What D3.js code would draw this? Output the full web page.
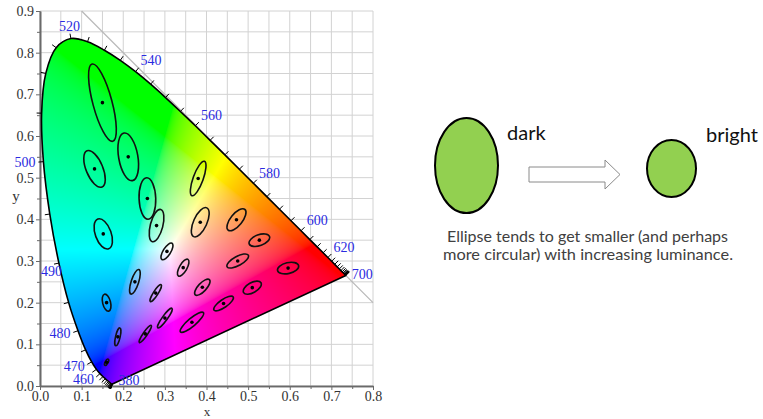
<!DOCTYPE html>
<html><head><meta charset="utf-8">
<script src="https://cdn.jsdelivr.net/npm/d3@7"></script>
<style>body{margin:0;background:#fff}svg{display:block}</style>
</head><body>
<svg id="chart" width="763" height="419"></svg>
<script>
// ---- CIE 1931 spectral locus (5 nm steps) ----
const wavelengths = [380,385,390,395,400,405,410,415,420,425,430,435,440,445,450,455,460,465,470,475,480,485,490,495,500,505,510,515,520,525,530,535,540,545,550,555,560,565,570,575,580,585,590,595,600,605,610,615,620,625,630,635,640,645,650,655,660,665,670,675,680,685,690,695,700];
const locusX = [0.1741,0.1740,0.1738,0.1736,0.1733,0.1730,0.1726,0.1721,0.1714,0.1703,0.1689,0.1669,0.1644,0.1611,0.1566,0.1510,0.1440,0.1355,0.1241,0.1096,0.0913,0.0687,0.0454,0.0235,0.0082,0.0039,0.0139,0.0389,0.0743,0.1142,0.1547,0.1929,0.2296,0.2658,0.3016,0.3373,0.3731,0.4087,0.4441,0.4788,0.5125,0.5448,0.5752,0.6029,0.6270,0.6482,0.6658,0.6801,0.6915,0.7006,0.7079,0.7140,0.7190,0.7230,0.7260,0.7283,0.7300,0.7311,0.7320,0.7327,0.7334,0.7340,0.7344,0.7346,0.7347];
const locusY = [0.0050,0.0050,0.0049,0.0049,0.0048,0.0048,0.0048,0.0048,0.0051,0.0058,0.0069,0.0086,0.0109,0.0138,0.0177,0.0227,0.0297,0.0399,0.0578,0.0868,0.1327,0.2007,0.2950,0.4127,0.5384,0.6548,0.7502,0.8120,0.8338,0.8262,0.8059,0.7816,0.7543,0.7243,0.6923,0.6589,0.6245,0.5896,0.5547,0.5202,0.4866,0.4544,0.4242,0.3965,0.3725,0.3514,0.3340,0.3197,0.3083,0.2993,0.2920,0.2859,0.2809,0.2770,0.2740,0.2717,0.2700,0.2689,0.2680,0.2673,0.2666,0.2660,0.2656,0.2654,0.2653];
const labeledWavelengths = [380,460,470,480,490,500,520,540,560,580,600,620,700];

// ---- MacAdam ellipses (a, b in 1e-3 units, theta in degrees) ----
const ellipseX = [0.160,0.187,0.253,0.150,0.131,0.212,0.258,0.152,0.280,0.380,0.160,0.228,0.305,0.385,0.472,0.527,0.475,0.510,0.596,0.344,0.390,0.441,0.278,0.300,0.365];
const ellipseY = [0.057,0.118,0.125,0.680,0.521,0.550,0.450,0.365,0.385,0.498,0.200,0.250,0.323,0.393,0.399,0.350,0.300,0.236,0.283,0.284,0.237,0.198,0.223,0.163,0.153];
const ellipseA = [0.85,2.2,2.5,9.6,4.7,5.8,5.0,3.8,4.0,4.4,2.1,3.1,2.3,3.8,3.2,2.6,2.9,2.4,2.6,2.3,2.5,2.8,2.4,2.9,3.6];
const ellipseB = [0.35,0.55,0.5,2.3,2.0,2.3,2.0,1.9,1.5,1.2,0.95,0.9,0.9,1.6,1.4,1.3,1.1,1.2,1.3,0.9,1.0,0.95,0.55,0.6,0.95];
const ellipseTheta = [62.5,77,55.5,105,112.5,100,92,110,75.5,70,104,72,58,65.5,51,20,28.5,29.5,13,60,47,34.5,57.5,54,40];
const ellipseMagnification = 10;

// ---- axes ----
const xTicks = [0,0.1,0.2,0.3,0.4,0.5,0.6,0.7,0.8];
const xTickLabels = ["0.0","0.1","0.2","0.3","0.4","0.5","0.6","0.7","0.8"];
const yTicks = [0,0.1,0.2,0.3,0.4,0.5,0.6,0.7,0.8,0.9];
const yTickLabels = ["0.0","0.1","0.2","0.3","0.4","0.5","0.6","0.7","0.8","0.9"];
const minorStep = 0.05;

const svg = d3.select('#chart');
const x = d3.scaleLinear().domain([0,0.8]).range([40,373]);
const y = d3.scaleLinear().domain([0,0.9]).range([386,11]);
const serif = '"Liberation Serif","DejaVu Serif",serif';

// grid
const gx = d3.range(0, 16.5).map(i => +(i*minorStep).toFixed(2));
const gy = d3.range(0, 18.5).map(i => +(i*minorStep).toFixed(2));
const grid = svg.append('g').attr('stroke','#d2d2d2').attr('stroke-width',1);
grid.selectAll('.v').data(gx).join('line').attr('x1',d=>x(d)).attr('x2',d=>x(d)).attr('y1',y(0)).attr('y2',y(0.9));
grid.selectAll('.h').data(gy).join('line').attr('y1',d=>y(d)).attr('y2',d=>y(d)).attr('x1',x(0)).attr('x2',x(0.8));

// x + y = 1 line
svg.append('line').attr('x1',x(0.1)).attr('y1',y(0.9)).attr('x2',x(0.8)).attr('y2',y(0.2))
  .attr('stroke','#b8b8b8').attr('stroke-width',1.2);

// colour fill image
const px0 = x(0), py0 = y(0.9);
const W = Math.round(x(0.8)-x(0)), H = Math.round(y(0)-y(0.9));
const cv = document.createElement('canvas'); cv.width = W; cv.height = H;
const ctx = cv.getContext('2d');
const img = ctx.createImageData(W,H);
const gam = v => v <= 0.0031308 ? 12.92*v : 1.055*Math.pow(v,1/2.4)-0.055;
for (let j=0;j<H;j++){
  const cy = y.invert(py0 + j + 0.5);
  for (let i=0;i<W;i++){
    const cx = x.invert(px0 + i + 0.5);
    const k = (j*W+i)*4;
    if (cy <= 0.0005) { img.data[k+3]=0; continue; }
    const X = cx/cy, Y = 1, Z = (1-cx-cy)/cy;
    let r = 3.2406*X - 1.5372*Y - 0.4986*Z;
    let g = -0.9689*X + 1.8758*Y + 0.0415*Z;
    let b = 0.0557*X - 0.2040*Y + 1.0570*Z;
    r = Math.max(0,r); g = Math.max(0,g); b = Math.max(0,b);
    const m = Math.max(r,g,b) || 1;
    img.data[k] = Math.round(255*gam(r/m));
    img.data[k+1] = Math.round(255*gam(g/m));
    img.data[k+2] = Math.round(255*gam(b/m));
    img.data[k+3] = 255;
  }
}
ctx.putImageData(img,0,0);

const pts = wavelengths.map((w,i)=>[x(locusX[i]), y(locusY[i])]);
const locusPath = d3.line().curve(d3.curveCatmullRom.alpha(0.5))(pts) + 'Z';
svg.append('clipPath').attr('id','locusClip').append('path').attr('d', locusPath);
svg.append('image').attr('x',px0).attr('y',py0).attr('width',W).attr('height',H)
  .attr('preserveAspectRatio','none').attr('href', cv.toDataURL()).attr('clip-path','url(#locusClip)');

// axes
const axL = svg.append('g').attr('transform',`translate(${x(0)},0)`)
  .call(d3.axisLeft(y).tickValues(yTicks).tickFormat((d,i)=>yTickLabels[i]).tickSize(4).tickSizeOuter(0).tickPadding(2));
const axLm = svg.append('g').attr('transform',`translate(${x(0)},0)`)
  .call(d3.axisLeft(y).tickValues(gy.filter(d=>Math.round(d*100)%10!==0)).tickFormat('').tickSize(3).tickSizeOuter(0));
const axB = svg.append('g').attr('transform',`translate(0,${y(0)})`)
  .call(d3.axisBottom(x).tickValues(xTicks).tickFormat((d,i)=>xTickLabels[i]).tickSize(4).tickSizeOuter(0).tickPadding(1));
const axBm = svg.append('g').attr('transform',`translate(0,${y(0)})`)
  .call(d3.axisBottom(x).tickValues(gx.filter(d=>Math.round(d*100)%10!==0)).tickFormat('').tickSize(3).tickSizeOuter(0));
[axL,axLm,axB,axBm].forEach(a=>{
  a.select('.domain').attr('stroke','#6a6a6a').attr('stroke-width',1.6);
  a.selectAll('.tick line').attr('stroke','#6a6a6a').attr('stroke-width',1);
  a.selectAll('.tick text').attr('fill','#333').style('font-family',serif).style('font-size','14px');
});
svg.append('text').attr('x',207).attr('y',y(0)+30).attr('text-anchor','middle')
  .style('font-family',serif).style('font-size','13px').attr('fill','#333').text('x');
svg.append('text').attr('x',16).attr('y',y(0.45)+2).attr('text-anchor','middle')
  .style('font-family',serif).style('font-size','15px').attr('fill','#333').text('y');

// locus outline
svg.append('path').attr('d',locusPath).attr('fill','none').attr('stroke','#000').attr('stroke-width',1.6).attr('stroke-linejoin','round');

// ticks and labels along locus
const wp = [x(0.3127), y(0.329)];
function normalAt(i){
  let j=i, k=i;
  while (j>0 && Math.hypot(pts[j][0]-pts[i][0],pts[j][1]-pts[i][1])<2) j--;
  while (k<pts.length-1 && Math.hypot(pts[k][0]-pts[i][0],pts[k][1]-pts[i][1])<2) k++;
  const tx = pts[k][0]-pts[j][0], ty = pts[k][1]-pts[j][1];
  const L = Math.hypot(tx,ty)||1;
  let nx = ty/L, ny = -tx/L;
  if (nx*(pts[i][0]-wp[0]) + ny*(pts[i][1]-wp[1]) < 0){ nx=-nx; ny=-ny; }
  return [nx,ny];
}
const tickG = svg.append('g').attr('stroke','#000').attr('stroke-width',1);
wavelengths.forEach((w,i)=>{
  const [nx,ny] = normalAt(i);
  tickG.append('line').attr('x1',pts[i][0]).attr('y1',pts[i][1])
    .attr('x2',pts[i][0]+nx*5).attr('y2',pts[i][1]+ny*5);
});
const labG = svg.append('g').style('font-family',serif).style('font-size','14px').attr('fill','#2a2ae0');
labeledWavelengths.forEach(w=>{
  const i = wavelengths.indexOf(w);
  const p = pts[i];
  const t = labG.append('text').text(w);
  if (i===0 || i===wavelengths.length-1){
    t.attr('x',p[0]+6).attr('y',p[1]-(i===0?3.5:1)).attr('dy','0.35em').attr('text-anchor','start');
    return;
  }
  const [nx,ny] = normalAt(i);
  let lx = p[0]+nx*8, ly = p[1]+ny*8;
  if (nx < -0.3){
    const wlen = t.node().getComputedTextLength();
    if (lx - wlen < x(0) && lx > x(0)) {
      // would straddle the y axis: tuck it inside the plot, just below
      t.attr('text-anchor','start').attr('x',x(0)+1).attr('y',ly+6).attr('dy','0.35em');
    } else {
      t.attr('text-anchor','end').attr('x',lx).attr('y',ly).attr('dy','0.35em');
    }
  } else {
    t.attr('x',lx).attr('y',ly).attr('text-anchor', nx > 0.3 ? 'start' : 'middle');
  }
});

// MacAdam ellipses
const eG = svg.append('g');
ellipseX.forEach((ex,i)=>{
  const cx = x(ex), cy = y(ellipseY[i]);
  const rx = x(ellipseA[i]*1e-3*ellipseMagnification) - x(0);
  const ry = y(0) - y(ellipseB[i]*1e-3*ellipseMagnification);
  eG.append('ellipse').attr('cx',cx).attr('cy',cy).attr('rx',rx).attr('ry',ry)
    .attr('transform',`rotate(${-ellipseTheta[i]},${cx},${cy})`)
    .attr('fill','none').attr('stroke','#111').attr('stroke-width',1.6);
  eG.append('circle').attr('cx',cx).attr('cy',cy).attr('r',1.8).attr('fill','#000');
});

// ---- right illustration ----
const sans = 'Lato,"Open Sans","Liberation Sans",sans-serif';
svg.append('ellipse').attr('cx',466.5).attr('cy',165.5).attr('rx',31.5).attr('ry',47.5)
  .attr('fill','#92d050').attr('stroke','#000').attr('stroke-width',2);
svg.append('ellipse').attr('cx',671.5).attr('cy',168.5).attr('rx',24.5).attr('ry',28.5)
  .attr('fill','#92d050').attr('stroke','#000').attr('stroke-width',2);
svg.append('polygon').attr('points','529,167 605,167 605,160 620,174.5 605,189 605,182 529,182')
  .attr('fill','#fff').attr('stroke','#8a8a8a').attr('stroke-width',1);
svg.append('text').attr('x',507).attr('y',140).style('font-family',sans).style('font-size','20px').attr('fill','#111').text('dark');
svg.append('text').attr('x',706).attr('y',142).style('font-family',sans).style('font-size','20px').attr('fill','#111').text('bright');
svg.append('text').attr('x',587.5).attr('y',242).attr('text-anchor','middle').attr('textLength',281).attr('lengthAdjust','spacingAndGlyphs')
  .style('font-family',sans).style('font-size','15px').attr('fill','#404040').text('Ellipse tends to get smaller (and perhaps');
svg.append('text').attr('x',588).attr('y',259.5).attr('text-anchor','middle').attr('textLength',290).attr('lengthAdjust','spacingAndGlyphs')
  .style('font-family',sans).style('font-size','15px').attr('fill','#404040').text('more circular) with increasing luminance.');
</script>
</body></html>
